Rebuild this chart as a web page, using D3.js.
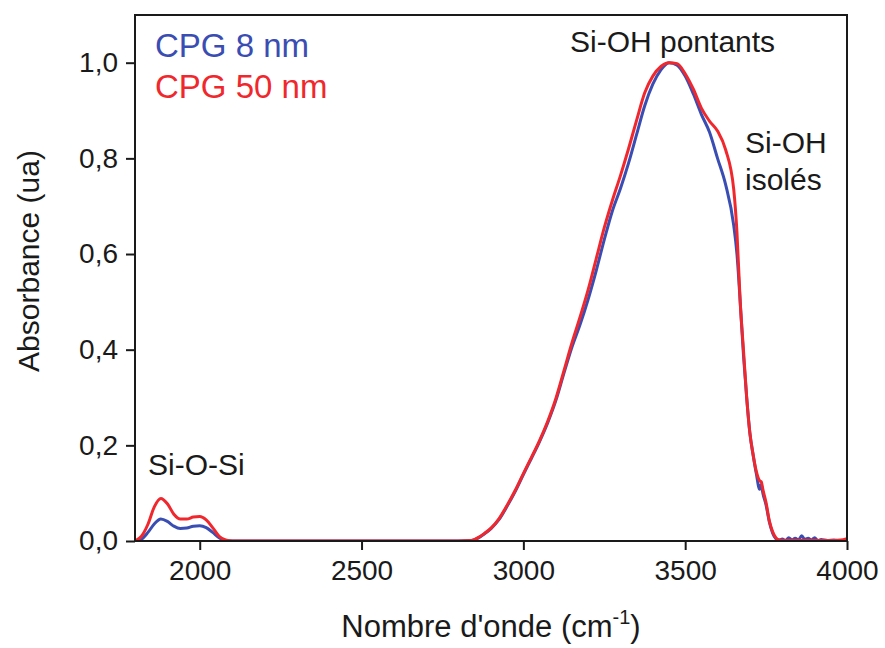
<!DOCTYPE html>
<html><head><meta charset="utf-8">
<script src="https://cdn.jsdelivr.net/npm/d3@7"></script>
<style>
html,body{margin:0;padding:0;background:#fff;}
text{font-family:"Liberation Sans",Arial,sans-serif;}
</style></head>
<body><svg id="c" width="885" height="648"></svg>
<script>
const wavenumbers = [1800,1820,1840,1860,1880,1900,1920,1940,1960,1980,2000,2020,2040,2060,2080,2100,
 2200,2400,2600,2800,2840,2860,2880,2900,
 2925,2950,2975,3000,3025,3050,3075,3100,3125,3150,3175,3200,3225,3250,3275,3300,3325,3350,3375,3400,3425,3450,3475,3500,3525,3550,3575,3600,3625,3650,
 3660,3670,3680,3690,3700,3710,3720,3730,3735,
 3740,3750,3760,3770,3780,3790,3800,3810,3820,3830,3840,3850,3860,3870,3880,3890,3900,3910,3920,
 3940,3960,3980,4000];
const cpg50 = [0,0.01,0.035,0.072,0.089,0.078,0.056,0.046,0.046,0.05,0.051,0.044,0.028,0.01,0.002,0,
 0,0,0,0,0.001,0.007,0.016,0.027,
 0.047,0.075,0.106,0.141,0.175,0.21,0.25,0.297,0.355,0.414,0.468,0.525,0.59,0.655,0.712,0.764,0.82,0.88,0.937,0.972,0.992,1.0,0.998,0.977,0.945,0.905,0.878,0.857,0.818,0.735,
 0.645,0.5,0.4,0.3,0.225,0.18,0.145,0.126,0.124,
 0.108,0.08,0.042,0.02,0.007,0.002,0.001,0.001,0.001,0.001,0.001,0.001,0.001,0.001,0.001,0.001,0.001,0.001,0.001,
 0.001,0.001,0.002,0.005];
const cpg8 = [0,0.004,0.018,0.036,0.046,0.041,0.031,0.026,0.027,0.031,0.032,0.028,0.018,0.007,0.001,0,
 0,0,0,0,0.001,0.006,0.015,0.026,
 0.045,0.073,0.104,0.139,0.173,0.208,0.247,0.293,0.35,0.405,0.452,0.505,0.565,0.63,0.69,0.737,0.79,0.85,0.91,0.955,0.985,1.0,0.995,0.972,0.935,0.892,0.855,0.8,0.745,0.66,
 0.6,0.5,0.39,0.3,0.225,0.18,0.14,0.108,0.118,
 0.1,0.075,0.04,0.017,0.005,0.002,0.004,0.001,0.007,0.002,0.006,0.002,0.011,0.003,0.006,0.002,0.007,0.001,0.003,
 0.001,0.002,0,0.001];
const xTicks = [2000,2500,3000,3500,4000];
const yTicks = [0,0.2,0.4,0.6,0.8,1.0];
const seriesNames = ["CPG 8 nm","CPG 50 nm"];
const annotations = ["Si-OH pontants","Si-OH","isolés","Si-O-Si"];

const svg = d3.select("#c");
const L=135,R=847,T=15,B=541;
const x = d3.scaleLinear().domain([1800,4000]).range([L,R]);
const y = d3.scaleLinear().domain([0,1]).range([B,62.7]);
const ink="#1a1a1a";
const blue="#3a4db3", red="#f0282d";

svg.append("clipPath").attr("id","cp").append("rect").attr("x",L).attr("y",T).attr("width",R-L).attr("height",B-T);

const line = d3.line().x((d,i)=>x(wavenumbers[i])).y(d=>y(d)).curve(d3.curveMonotoneX);
const g = svg.append("g").attr("clip-path","url(#cp)");
g.append("path").datum(cpg8).attr("d",line).attr("fill","none").attr("stroke",blue).attr("stroke-width",3).attr("stroke-linejoin","round");
g.append("path").datum(cpg50).attr("d",line).attr("fill","none").attr("stroke",red).attr("stroke-width",3).attr("stroke-linejoin","round");

// frame
svg.append("rect").attr("x",L).attr("y",T).attr("width",R-L).attr("height",B-T).attr("fill","none").attr("stroke",ink).attr("stroke-width",2);

const fmt = d=>d3.format(".1f")(d).replace(".",",");
const xa = svg.append("g").attr("transform",`translate(0,${B})`)
  .call(d3.axisBottom(x).tickValues(xTicks).tickSize(9).tickPadding(10).tickFormat(d3.format("d")));
const ya = svg.append("g").attr("transform",`translate(${L},0)`)
  .call(d3.axisLeft(y).tickValues(yTicks).tickSize(9).tickPadding(8).tickFormat(fmt));
[xa,ya].forEach(a=>{
  a.select(".domain").remove();
  a.selectAll("line").attr("stroke",ink).attr("stroke-width",2);
  a.selectAll("text").attr("fill",ink).style("font-size","28px").style("font-family","'Liberation Sans',Arial,sans-serif");
});

// axis titles
const xt = svg.append("text").attr("x",491).attr("y",637).attr("text-anchor","middle").attr("fill",ink).style("font-size","31px");
xt.append("tspan").text("Nombre d'onde (cm");
xt.append("tspan").attr("dy",-13).style("font-size","20px").text("-1");
xt.append("tspan").attr("dy",13).text(")");

svg.append("text").attr("transform","translate(39,261) rotate(-90)").attr("text-anchor","middle").attr("fill",ink).style("font-size","30px").text("Absorbance (ua)");

// legend
svg.append("text").attr("x",155).attr("y",57).attr("fill",blue).style("font-size","33px").text(seriesNames[0]);
svg.append("text").attr("x",155).attr("y",98).attr("fill",red).style("font-size","33px").text(seriesNames[1]);

// annotations
svg.append("text").attr("x",570).attr("y",52).attr("fill",ink).style("font-size","30px").text(annotations[0]);
svg.append("text").attr("x",745).attr("y",153).attr("fill",ink).style("font-size","30px").text(annotations[1]);
svg.append("text").attr("x",745).attr("y",190).attr("fill",ink).style("font-size","30px").text(annotations[2]);
svg.append("text").attr("x",148).attr("y",475).attr("fill",ink).style("font-size","30px").text(annotations[3]);
</script></body></html>
